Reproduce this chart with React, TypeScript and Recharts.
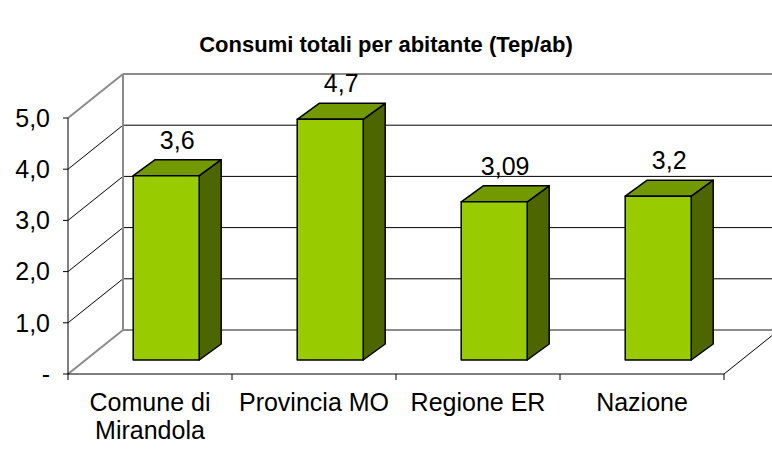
import React from 'react';
import { BarChart, Bar, XAxis, YAxis, CartesianGrid, LabelList } from 'recharts';

// data
const categoryLines = [['Comune di', 'Mirandola'], ['Provincia MO'], ['Regione ER'], ['Nazione']];
const consumi = [3.6, 4.7, 3.09, 3.2];
const yTicks = [0, 1, 2, 3, 4, 5];
const yTickLabels = ['-', '1,0', '2,0', '3,0', '4,0', '5,0'];

const data = categoryLines.map((lines, i) => ({ name: lines.join(' '), value: consumi[i] }));

const W = 772;
const H = 452;
const MARGIN = { top: 104, right: 32, bottom: 0, left: 0 };
const Y_AXIS_W = 84;
const X_AXIS_H = 92;
const PLOT_LEFT = MARGIN.left + Y_AXIS_W;
const PLOT_RIGHT = W - MARGIN.right;
const PLOT_BOTTOM = H - MARGIN.bottom - X_AXIS_H;

// fake 3d: bars stand in the middle plane, axes sit in front, walls behind
const FRONT = { dx: -16, dy: 14 };
const BACK = { dx: 39, dy: -30 };
const DEPTH = { dx: 22, dy: -16 };

const FONT = '"Liberation Sans", Arial, sans-serif';
const FS = 25;
const WALL = '#8c8c8c';

function GridLine(props: any) {
  const { x1, x2, y1 } = props;
  const top = props.y ?? MARGIN.top;
  const bottom = top + (props.height ?? PLOT_BOTTOM - MARGIN.top);
  const isTop = Math.abs(y1 - top) < 0.5;
  const isBottom = Math.abs(y1 - bottom) < 0.5;
  const edge = isTop || isBottom;
  const stroke = edge ? WALL : '#000';
  const sw = edge ? 2 : 1;
  const fx = x1 + FRONT.dx;
  const fy = y1 + FRONT.dy;
  const bx = x1 + BACK.dx;
  const by = y1 + BACK.dy;

  return (
    <g>
      <line x1={bx} y1={by} x2={x2 + BACK.dx + 20} y2={by} stroke={stroke} strokeWidth={sw} />
      <line x1={fx} y1={fy} x2={bx} y2={by} stroke={stroke} strokeWidth={sw} />
      <line x1={fx - 5} y1={fy} x2={fx} y2={fy} stroke="#000" />
      {isTop && (
        <>
          <line x1={bx} y1={by} x2={bx} y2={bottom + BACK.dy} stroke={WALL} strokeWidth={2} />
          <line x1={fx} y1={fy} x2={fx} y2={bottom + FRONT.dy} stroke="#000" />
        </>
      )}
      {isBottom && (
        <>
          <line x1={fx} y1={fy} x2={x2 + FRONT.dx} y2={fy} stroke="#000" />
          <line x1={x2 + FRONT.dx} y1={fy} x2={x2 + BACK.dx} y2={by} stroke="#000" />
        </>
      )}
    </g>
  );
}

function ValueTick(props: any) {
  const { y, payload } = props;
  const i = yTicks.indexOf(payload.value);
  return (
    <text
      x={50}
      y={y + FRONT.dy}
      dy="0.35em"
      textAnchor="end"
      fontFamily={FONT}
      fontSize={FS}
      fill="#000"
    >
      {yTickLabels[i]}
    </text>
  );
}

function CategoryTick(props: any) {
  const { x, payload } = props;
  const i = data.findIndex(d => d.name === payload.value);
  const lines = categoryLines[i] || [payload.value];
  const band = (PLOT_RIGHT - PLOT_LEFT) / categoryLines.length;
  const fx = x + FRONT.dx;
  const axisY = PLOT_BOTTOM + FRONT.dy;

  return (
    <g>
      <line x1={fx - band / 2} y1={axisY} x2={fx - band / 2} y2={axisY + 6} stroke="#000" />
      {i === categoryLines.length - 1 && (
        <line x1={fx + band / 2} y1={axisY} x2={fx + band / 2} y2={axisY + 6} stroke="#000" />
      )}
      <text x={fx} y={axisY + 37} textAnchor="middle" fontFamily={FONT} fontSize={FS} fill="#000">
        {lines.map((l, k) => (
          <tspan key={k} x={fx} dy={k === 0 ? 0 : 28}>
            {l}
          </tspan>
        ))}
      </text>
    </g>
  );
}

function Box3D(props: any) {
  const { x, y, width: w, height: h } = props;
  const { dx, dy } = DEPTH;
  return (
    <g stroke="#000" strokeWidth={1.5} strokeLinejoin="round">
      <polygon
        points={`${x + w},${y} ${x + w + dx},${y + dy} ${x + w + dx},${y + h + dy} ${x + w},${y + h}`}
        fill="#4d6600"
      />
      <polygon
        points={`${x},${y} ${x + dx},${y + dy} ${x + w + dx},${y + dy} ${x + w},${y}`}
        fill="#739900"
      />
      <rect x={x} y={y} width={w} height={h} fill="#99cc00" />
    </g>
  );
}

function BarValue(props: any) {
  const { x, y, width, value } = props;
  return (
    <text
      x={x + width / 2 + 11}
      y={y - 27}
      textAnchor="middle"
      fontFamily={FONT}
      fontSize={FS}
      fill="#000"
    >
      {String(value).replace('.', ',')}
    </text>
  );
}

export default function App() {
  return (
    <div style={{ position: 'absolute', left: 0, top: 0, width: W, height: H, background: '#fff' }}>
      <div
        style={{
          position: 'absolute',
          left: 0,
          top: 32,
          width: W,
          textAlign: 'center',
          fontFamily: FONT,
          fontWeight: 'bold',
          fontSize: 22,
          color: '#000',
        }}
      >
        Consumi totali per abitante (Tep/ab)
      </div>
      <BarChart width={W} height={H} data={data} margin={MARGIN} barCategoryGap="30%">
        <CartesianGrid vertical={false} horizontal={(p: any) => <GridLine {...p} />} />
        <XAxis
          dataKey="name"
          height={X_AXIS_H}
          axisLine={false}
          tickLine={false}
          interval={0}
          tick={<CategoryTick />}
        />
        <YAxis
          width={Y_AXIS_W}
          domain={[0, 5]}
          ticks={yTicks}
          axisLine={false}
          tickLine={false}
          tick={<ValueTick />}
        />
        <Bar dataKey="value" shape={<Box3D />} isAnimationActive={false}>
          <LabelList dataKey="value" content={<BarValue />} />
        </Bar>
      </BarChart>
    </div>
  );
}
